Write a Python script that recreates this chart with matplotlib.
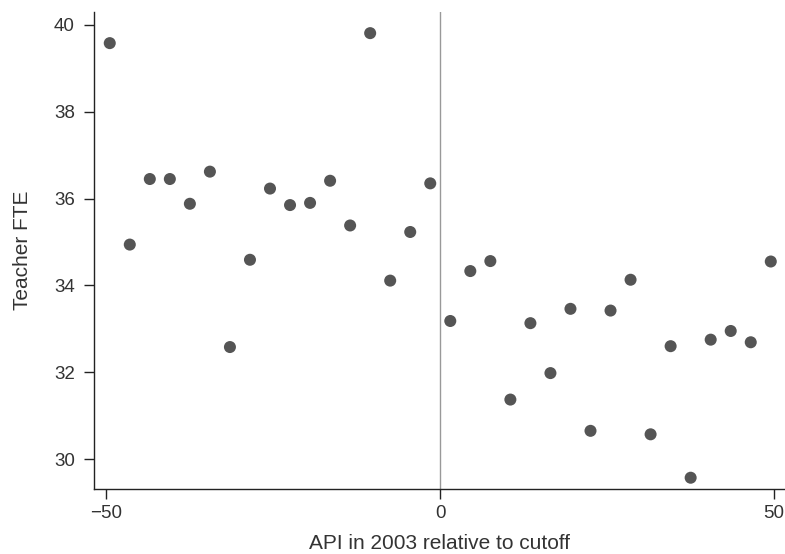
import matplotlib
matplotlib.use("Agg")
import matplotlib.pyplot as plt

# bin midpoints of API relative to the cutoff
api_bins = [
    -49.5, -46.5, -43.5, -40.5, -37.5, -34.5, -31.5, -28.5, -25.5,
    -22.5, -19.5, -16.5, -13.5, -10.5, -7.5, -4.5, -1.5,
    1.5, 4.5, 7.5, 10.5, 13.5, 16.5, 19.5, 22.5, 25.5,
    28.5, 31.5, 34.5, 37.5, 40.5, 43.5, 46.5, 49.5,
]

# mean teacher FTE in each bin
teacher_fte = [
    39.58, 34.94, 36.45, 36.45, 35.88, 36.62, 32.58, 34.59, 36.23,
    35.85, 35.90, 36.41, 35.38, 39.81, 34.11, 35.23, 36.35,
    33.18, 34.33, 34.56, 31.37, 33.13, 31.98, 33.46, 30.65, 33.42,
    34.13, 30.57, 32.60, 29.57, 32.75, 32.95, 32.69, 34.55,
]

x_ticks = [-50, 0, 50]
y_ticks = [30, 32, 34, 36, 38, 40]

plt.rcParams["font.family"] = ["Liberation Sans", "DejaVu Sans"]

fig = plt.figure(figsize=(7.85, 5.54), dpi=100)
ax = fig.add_axes([0.1194, 0.1173, 0.8806, 0.8605])

ax.axvline(0, color="#999999", linewidth=1.0, zorder=1)
ax.scatter(api_bins, teacher_fte, s=75, color="#555555", edgecolors="none", zorder=3)

ax.set_xlim(-51.9, 51.63)
ax.set_ylim(29.31, 40.29)
ax.set_xticks(x_ticks)
ax.set_xticklabels(["\u221250", "0", "50"])
ax.set_yticks(y_ticks)

for side in ["top", "right"]:
    ax.spines[side].set_visible(False)
for side in ["left", "bottom"]:
    ax.spines[side].set_color("#222222")
    ax.spines[side].set_linewidth(1.0)

ax.tick_params(axis="both", length=7.5, width=1.0, color="#222222",
               labelsize=13.5, labelcolor="#333333")
ax.tick_params(axis="y", pad=6)
ax.tick_params(axis="x", pad=4)

ax.set_xlabel("API in 2003 relative to cutoff", fontsize=15, color="#333333", labelpad=9)
ax.set_ylabel("Teacher FTE", fontsize=15, color="#333333", labelpad=16)

fig.savefig("out.png", dpi=100)
